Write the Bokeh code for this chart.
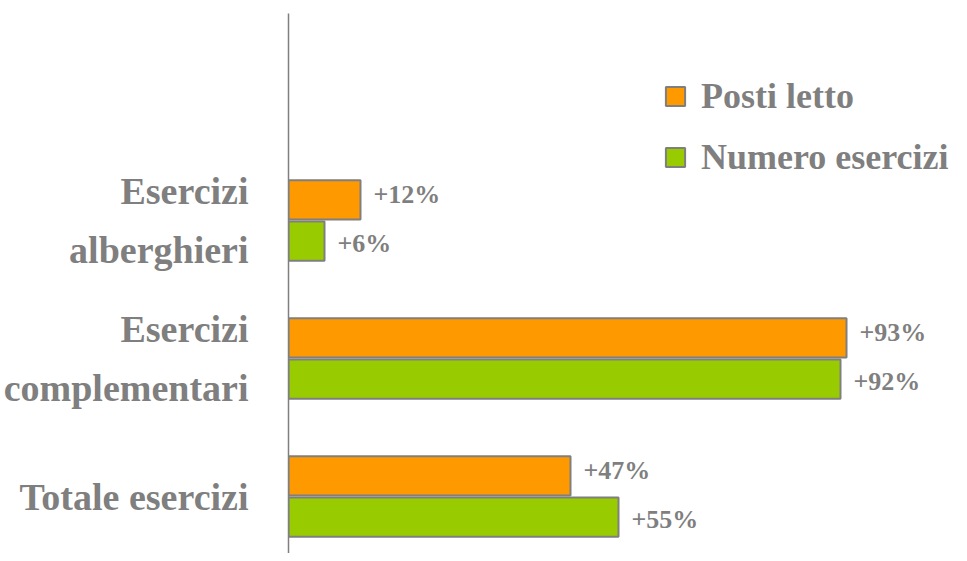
from bokeh.plotting import figure
from bokeh.models import Range1d, ColumnDataSource, Legend, LegendItem, FixedTicker
from bokeh.embed import file_html
from bokeh.resources import INLINE

# ---- data ----
categories = ["Esercizi\nalberghieri", "Esercizi\ncomplementari", "Totale esercizi"]
posti_letto = [12, 93, 47]
numero_esercizi = [6, 92, 55]
series_names = ["Posti letto", "Numero esercizi"]

ORANGE = "#FF9900"
GREEN = "#99CC00"
GRAY = "#7F7F7F"
FONT = "Liberation Serif"

n = len(categories)
ypos = [n - 1 - i for i in range(n)]  # top category first

p = figure(width=951, height=553, output_backend="svg", toolbar_location=None,
           x_range=Range1d(0, 110.5), y_range=Range1d(-0.413, 3.5),
           min_border_left=288, min_border_right=0, min_border_top=13, min_border_bottom=0)
p.xaxis.visible = False
p.xgrid.visible = False
p.ygrid.visible = False
p.outline_line_color = None
p.background_fill_color = "white"
p.border_fill_color = "white"

p.yaxis.ticker = FixedTicker(ticks=ypos)
p.yaxis.major_label_overrides = {y: c for y, c in zip(ypos, categories)}
p.yaxis.major_tick_line_color = None
p.yaxis.minor_tick_line_color = None
p.yaxis.major_label_standoff = 34
p.yaxis.major_label_text_font = FONT
p.yaxis.major_label_text_font_style = "bold"
p.yaxis.major_label_text_font_size = "38px"
p.yaxis.major_label_text_color = GRAY
p.yaxis.major_label_text_line_height = 1.4
p.yaxis.axis_line_color = GRAY
p.yaxis.axis_line_width = 1.5

off = 0.149
bh = 0.285
src_o = ColumnDataSource(dict(y=[v + off for v in ypos], x=posti_letto,
                              lab=["+%d%%" % v for v in posti_letto],
                              ly=[v + off + 0.04 for v in ypos]))
src_g = ColumnDataSource(dict(y=[v - off for v in ypos], x=numero_esercizi,
                              lab=["+%d%%" % v for v in numero_esercizi],
                              ly=[v - off - 0.02 for v in ypos]))

r_o = p.hbar(y="y", right="x", left=0, height=bh, source=src_o,
             fill_color=ORANGE, line_color=GRAY, line_width=2)
r_g = p.hbar(y="y", right="x", left=0, height=bh, source=src_g,
             fill_color=GREEN, line_color=GRAY, line_width=2)

for src in (src_o, src_g):
    p.text(x="x", y="ly", text="lab", source=src, x_offset=13,
           text_font=FONT, text_font_style="bold", text_font_size="26px",
           text_color=GRAY, text_baseline="middle", text_align="left")

legend = Legend(items=[LegendItem(label=series_names[0], renderers=[r_o]),
                       LegendItem(label=series_names[1], renderers=[r_g])],
                location=(375, 375), orientation="vertical",
                glyph_width=24, glyph_height=24, label_standoff=14, spacing=19,
                padding=0, margin=0, border_line_color=None,
                background_fill_alpha=0,
                label_text_font=FONT, label_text_font_style="bold",
                label_text_font_size="36px", label_text_color=GRAY)
p.add_layout(legend, "center")

open("out.html", "w").write(file_html(p, INLINE))
